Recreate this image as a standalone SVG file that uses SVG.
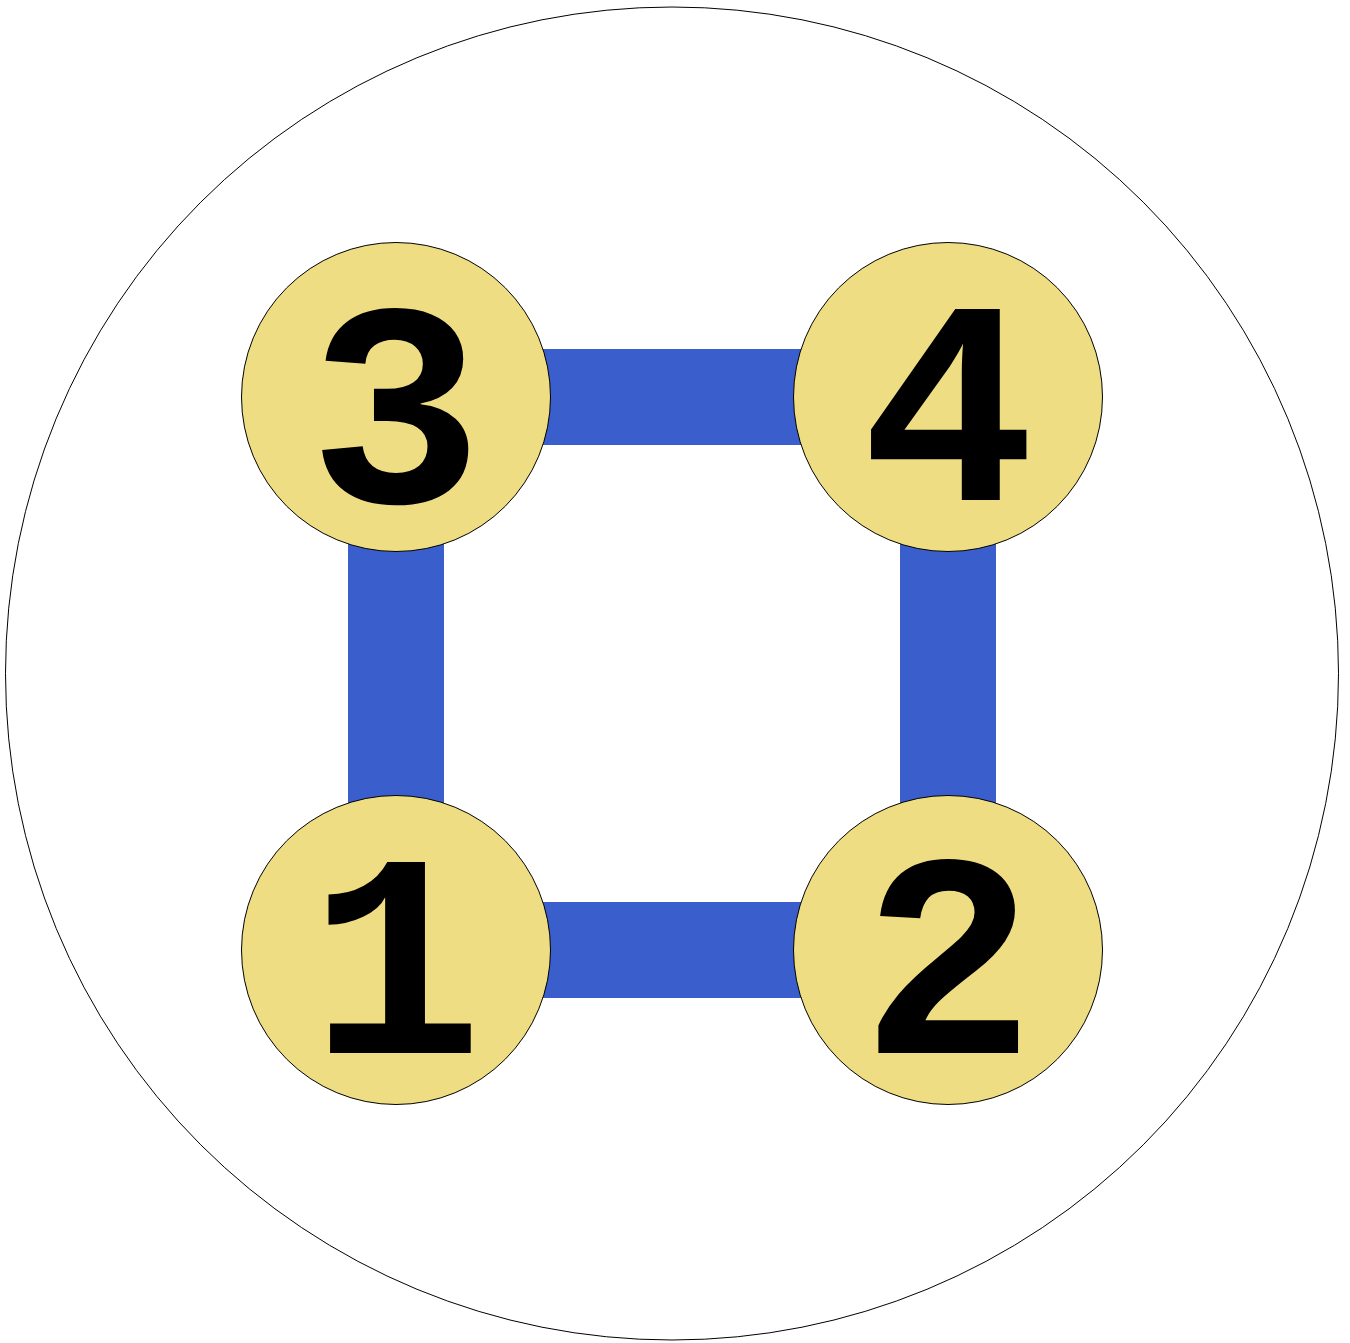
<svg xmlns="http://www.w3.org/2000/svg" width="1350" height="1343" viewBox="0 0 1350 1343">
<style>
.edge{stroke:#3a5fcd;stroke-width:96;fill:none}
.node circle{fill:#eedd82;stroke:#000;stroke-width:1}
.node text{font-family:"Liberation Mono","Courier New",monospace;font-weight:bold;font-size:290px;text-anchor:middle;fill:#000}
</style>
<rect width="1350" height="1343" fill="#fff"/>
<circle cx="672" cy="673.5" r="666.5" fill="none" stroke="#000" stroke-width="1"/>
<g id="edges">
<line class="edge" x1="396" y1="397" x2="948" y2="397"/>
<line class="edge" x1="396" y1="950" x2="948" y2="950"/>
<line class="edge" x1="396" y1="397" x2="396" y2="950"/>
<line class="edge" x1="948" y1="397" x2="948" y2="950"/>
</g>
<g id="node3" class="node"><circle cx="396" cy="397" r="154.5"/><text x="396" y="502">3</text></g>
<g id="node4" class="node"><circle cx="948" cy="397" r="154.5"/><text x="948" y="500">4</text></g>
<g id="node1" class="node"><circle cx="396" cy="950" r="154.5"/><text x="396" y="1053">1</text></g>
<g id="node2" class="node"><circle cx="948" cy="950" r="154.5"/><text x="948" y="1053">2</text></g>
</svg>
